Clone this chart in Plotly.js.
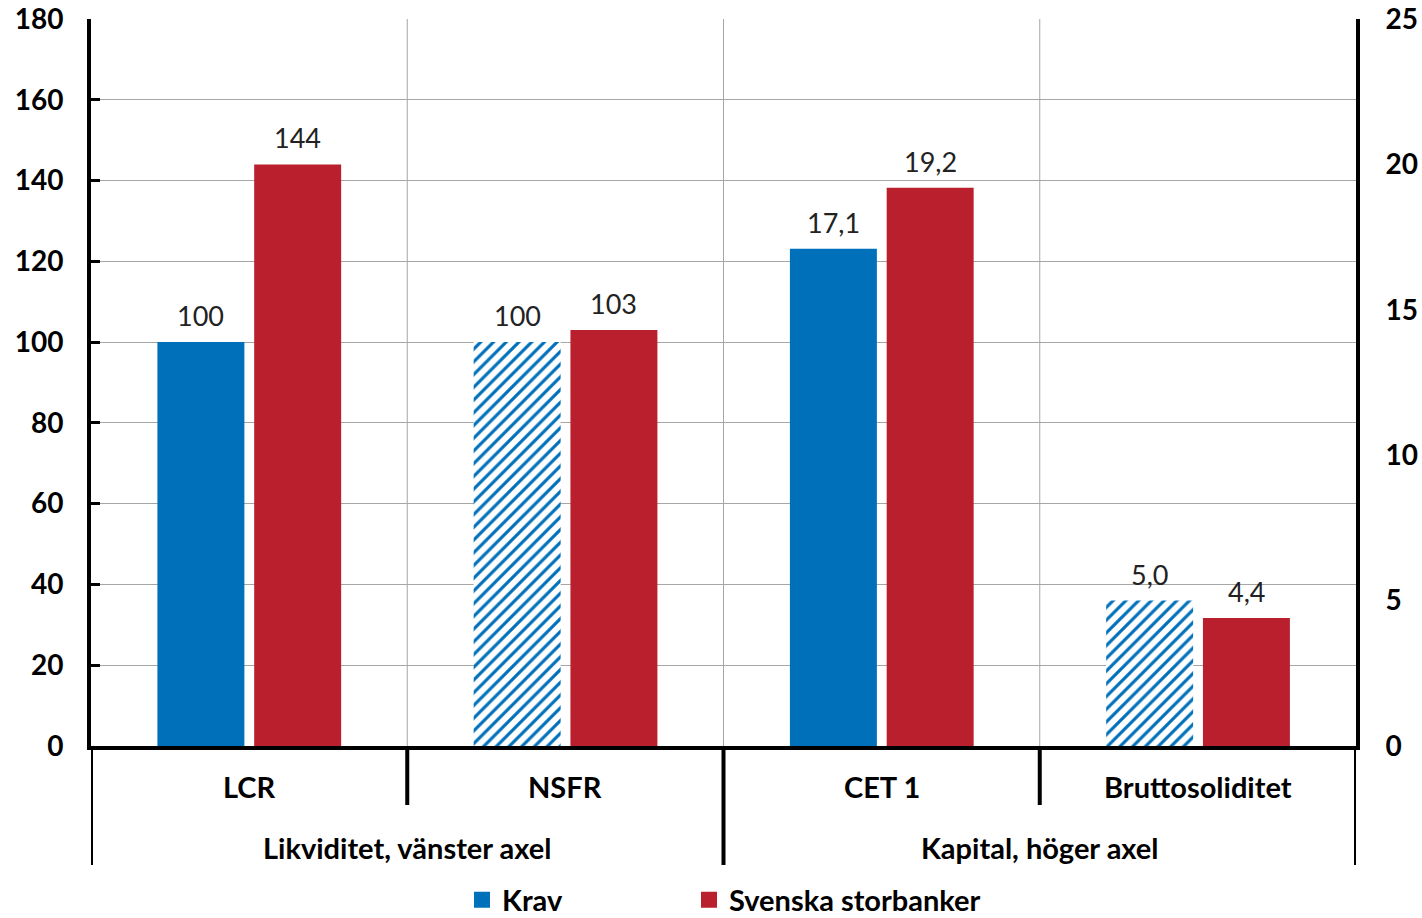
<!DOCTYPE html>
<html>
<head>
<meta charset="utf-8">
<script src="https://cdn.plot.ly/plotly-3.0.1.min.js"></script>
<style>html,body{margin:0;padding:0;background:#fff;}#chart{width:1422px;height:918px;}</style>
</head>
<body>
<div id="chart"></div>
<script>
// Data
const categories = ['LCR', 'NSFR', 'CET 1', 'Bruttosoliditet'];
const groupLabels = ['Likviditet, vänster axel', 'Kapital, höger axel'];
const seriesNames = ['Krav', 'Svenska storbanker'];
const liquidityKrav = [100, 100];        // LCR, NSFR (left axis)
const liquiditySvenska = [144, 103];
const capitalKrav = [17.1, 5.0];         // CET 1, Bruttosoliditet (right axis)
const capitalSvenska = [19.2, 4.4];
const kravHatched = [false, true];        // second bar in each pair is hatched

const BLUE = '#0070BA';
const RED = '#BA1F2D';
const FONT = 'Lato, "Open Sans", sans-serif';
const barWidth = 0.275;
const offKrav = -0.29, offSv = 0.016;

function pat(){
  return {
    shape: kravHatched.map(h => h ? '/' : ''),
    fgcolor: BLUE, bgcolor: '#ffffff', size: 9, solidity: 0.35, fillmode: 'replace'
  };
}
const labelFont = {family: FONT, size: 27, color:'#222'};

const traces = [
  {type:'bar', name: seriesNames[0], x:[0,1], y: liquidityKrav, yaxis:'y',
   width: barWidth, offset: offKrav, marker:{color: BLUE, pattern: pat(), line:{width:0}},
   showlegend:false, hoverinfo:'none'},
  {type:'bar', name: seriesNames[1], x:[0,1], y: liquiditySvenska, yaxis:'y',
   width: barWidth, offset: offSv, marker:{color: RED, line:{width:0}},
   showlegend:false, hoverinfo:'none'},
  {type:'bar', name: seriesNames[0], x:[2,3], y: capitalKrav, yaxis:'y2',
   width: barWidth, offset: offKrav, marker:{color: BLUE, pattern: pat(), line:{width:0}},
   showlegend:false, hoverinfo:'none'},
  {type:'bar', name: seriesNames[1], x:[2,3], y: capitalSvenska, yaxis:'y2',
   width: barWidth, offset: offSv, marker:{color: RED, line:{width:0}},
   showlegend:false, hoverinfo:'none'},
  // legend entries (square swatches)
  {type:'scatter', mode:'markers', name: seriesNames[0], x:[null], y:[null], legend:'legend',
   marker:{symbol:'square', size:16, color: BLUE}, showlegend:true, hoverinfo:'none'},
  {type:'scatter', mode:'markers', name: seriesNames[1], x:[null], y:[null], legend:'legend2',
   marker:{symbol:'square', size:16, color: RED}, showlegend:true, hoverinfo:'none'}
];

const H = 727; // plot height in px
const W = 1265; // plot width in px
const py = px => -px / H;

const shapes = [];
[0.5, 1.5, 2.5].forEach(x => shapes.push({type:'line', xref:'x', yref:'paper', x0:x, x1:x, y0:0, y1:1,
  line:{color:'#a6a6a6', width:1}, layer:'below'}));
[[-0.5, 119], [0.5, 59], [1.5, 119], [2.5, 59], [3.5, 119]].forEach(([x, len]) =>
  shapes.push({type:'line', xref:'x', yref:'paper', x0:x, x1:x, y0:0, y1:py(len),
    line:{color:'#000', width:4}}));

const boldFont = {family: FONT, size: 29, color:'#000', weight:'bold'};
const annotations = [];
categories.forEach((c, i) => annotations.push({xref:'x', yref:'paper', x:i, y:py(41), text:c,
  showarrow:false, yanchor:'middle', font: boldFont}));
groupLabels.forEach((g, i) => annotations.push({xref:'x', yref:'paper', x:0.5 + 2*i, y:py(101), text:g,
  showarrow:false, yanchor:'middle', font: boldFont}));

// value labels above bars
const fmt = (v, d) => v.toFixed(d).replace('.', ',');
function addLabels(xs, vals, off, yref, dec){
  vals.forEach((v, i) => annotations.push({xref:'x', yref: yref, x: xs[i] + off + barWidth/2, y: v,
    text: fmt(v, dec), showarrow:false, yanchor:'bottom', yshift: 8, font: labelFont}));
}
addLabels([0,1], liquidityKrav, offKrav, 'y', 0);
addLabels([0,1], liquiditySvenska, offSv, 'y', 0);
addLabels([2,3], capitalKrav, offKrav, 'y2', 1);
addLabels([2,3], capitalSvenska, offSv, 'y2', 1);

const legendBase = {orientation:'h', xanchor:'left', y: py(154), yanchor:'middle',
  font: boldFont, itemwidth: 30, bgcolor:'rgba(0,0,0,0)', borderwidth: 0};

const layout = {
  width: 1422, height: 918,
  margin: {l: 91, r: 66, t: 19, b: 172, pad: 0, autoexpand: false},
  paper_bgcolor: '#fff', plot_bgcolor: '#fff',
  separators: ', ',
  barmode: 'overlay',
  font: {family: FONT, size: 24, color:'#000'},
  xaxis: {range: [-0.5, 3.5], showticklabels: false, showgrid: false, zeroline: false,
    showline: true, linecolor:'#000', linewidth: 4, ticks:'', fixedrange:true},
  yaxis: {range: [0, 180], dtick: 20, tick0: 0, showgrid: true, gridcolor:'#a6a6a6', gridwidth: 1,
    zeroline: false, showline: true, linecolor:'#000', linewidth: 4, ticks:'inside', ticklen: 9,
    tickwidth: 3, tickcolor:'#000', ticklabelstandoff: 18,
    tickfont:{family: FONT, size: 28, color:'#000', weight: 'bold'}},
  yaxis2: {range: [0, 25], dtick: 5, tick0: 0, overlaying:'y', side:'right', showgrid:false,
    zeroline:false, showline:true, linecolor:'#000', linewidth: 4, ticks:'', ticklabelstandoff: 20,
    tickfont:{family: FONT, size: 28, color:'#000', weight: 'bold'}},
  legend: Object.assign({}, legendBase, {x: (462 - 91) / W}),
  legend2: Object.assign({}, legendBase, {x: (689 - 91) / W}),
  shapes: shapes,
  annotations: annotations
};

Plotly.newPlot('chart', traces, layout, {displayModeBar:false, staticPlot:true});
</script>
</body>
</html>
